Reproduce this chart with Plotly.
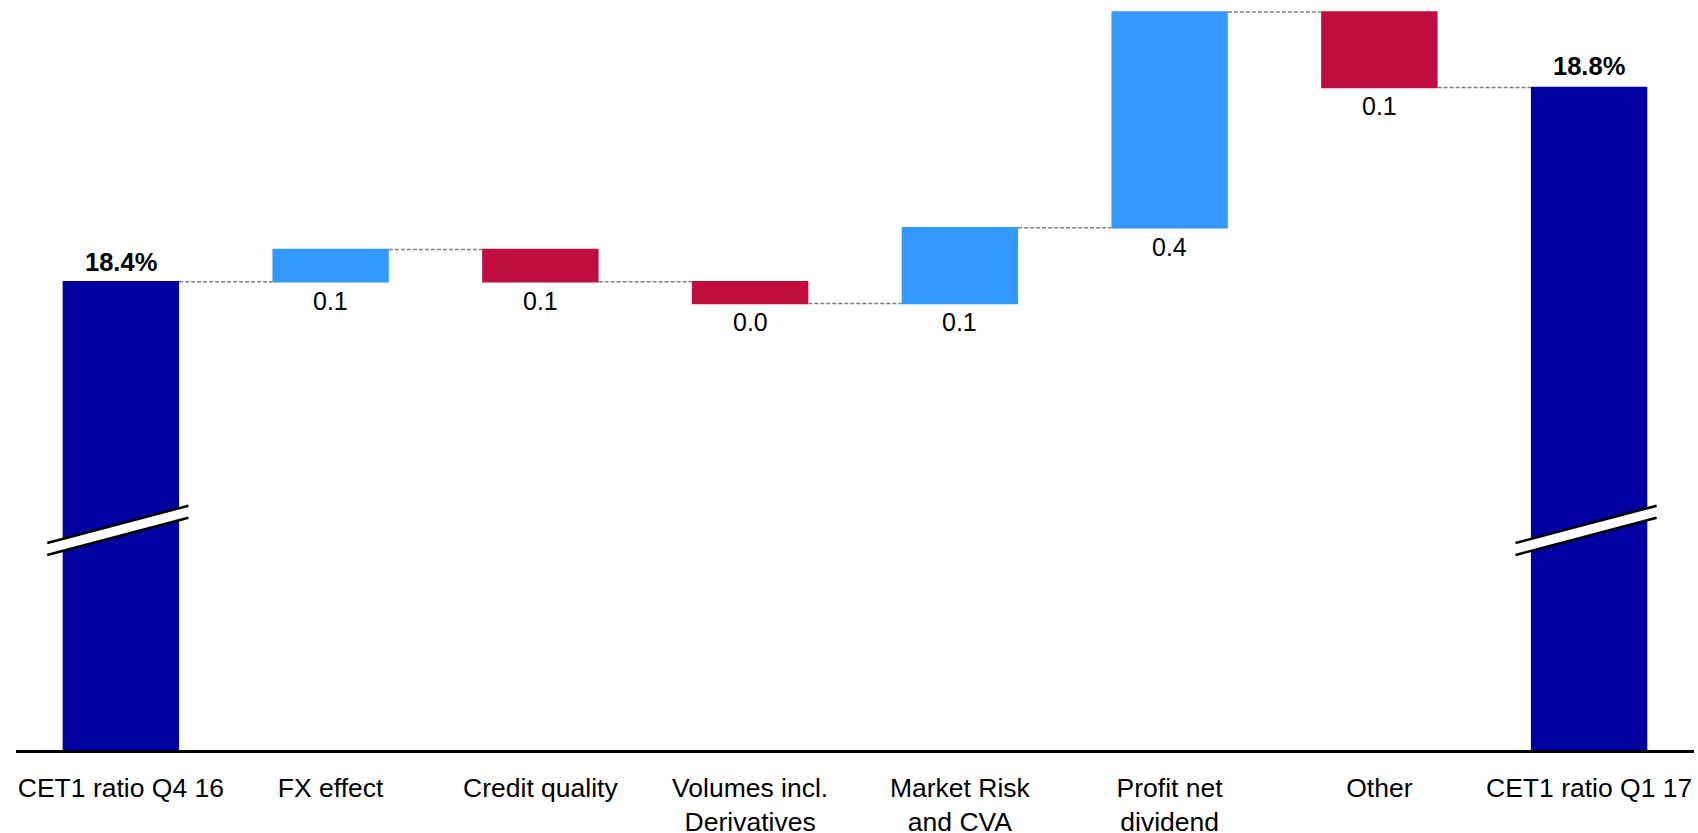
import plotly.graph_objects as go

# ---- data ----
categories = ["CET1 ratio Q4 16", "FX effect", "Credit quality",
              "Volumes incl.<br>Derivatives", "Market Risk<br>and CVA",
              "Profit net<br>dividend", "Other", "CET1 ratio Q1 17"]
measures = ["absolute", "relative", "relative", "relative",
            "relative", "relative", "relative", "total"]
values = [18.42, 0.06, -0.06, -0.04, 0.14, 0.40, -0.14, 0]

# ---- styling ----
C_TOTAL = "#0000A0"
C_UP = "#3399FF"
C_DOWN = "#C10D3D"
FONT = "Liberation Sans, Arial, sans-serif"

W, H = 1698, 833
ML, MR, MT, MB = 15.6, 4.4, 0, 83
Y_RANGE = [17.553, 18.942]

xs = list(range(len(categories)))

fig = go.Figure(go.Waterfall(
    x=xs, y=values, measure=measures, width=0.555,
    increasing=dict(marker=dict(color=C_UP)),
    decreasing=dict(marker=dict(color=C_DOWN)),
    totals=dict(marker=dict(color=C_TOTAL)),
    connector=dict(mode="between", line=dict(color="#808080", width=1.5, dash="4px,2px")),
    textinfo="none", hoverinfo="skip",
))

# ---- labels computed from the data ----
running = 0.0
for i, (m, v) in enumerate(zip(measures, values)):
    if m == "absolute":
        running = v
        fig.add_annotation(x=i, y=running, text=f"<b>{running:.1f}%</b>", showarrow=False,
                           yanchor="middle", yshift=20, font=dict(family=FONT, size=25.5, color="black"))
    elif m == "total":
        fig.add_annotation(x=i, y=running, text=f"<b>{running:.1f}%</b>", showarrow=False,
                           yanchor="middle", yshift=21, font=dict(family=FONT, size=25.5, color="black"))
    else:
        bottom = min(running, running + v)
        running += v
        fig.add_annotation(x=i, y=bottom, text=f"{abs(v):.1f}", showarrow=False,
                           yanchor="middle", yshift=-19, font=dict(family=FONT, size=25, color="black"))

# ---- axis break marks on the total bars (decoration) ----
def add_break(xc):
    xl, xr = xc - 0.351, xc + 0.322
    yl_top, yr_top = 0.276, 0.3257
    yl_bot, yr_bot = 0.260, 0.3097
    fig.add_shape(type="path", xref="x", yref="paper",
                  path=f"M {xl},{yl_top} L {xr},{yr_top} L {xr},{yr_bot} L {xl},{yl_bot} Z",
                  fillcolor="white", line=dict(width=0), layer="above")
    for (a, b) in [(yl_top, yr_top), (yl_bot, yr_bot)]:
        fig.add_shape(type="line", xref="x", yref="paper", x0=xl, x1=xr, y0=a, y1=b,
                      line=dict(color="black", width=2.5), layer="above")

for i, m in enumerate(measures):
    if m in ("absolute", "total"):
        add_break(i)

fig.update_layout(
    width=W, height=H, autosize=False,
    margin=dict(l=ML, r=MR, t=MT, b=MB, pad=0, autoexpand=False),
    paper_bgcolor="white", plot_bgcolor="white",
    showlegend=False,
    font=dict(family=FONT, size=26, color="black"),
    xaxis=dict(range=[-0.5, len(categories) - 0.5], tickvals=xs, ticktext=categories,
               showgrid=False, zeroline=False, showline=True, linecolor="black", linewidth=2.5,
               ticks="", ticklabelstandoff=12, automargin=False,
               tickfont=dict(family=FONT, size=26.5, color="black"),
               fixedrange=True),
    yaxis=dict(range=Y_RANGE, visible=False, showgrid=False, zeroline=False,
               automargin=False, fixedrange=True),
)

fig.write_html("out.html", config={"displayModeBar": False},
               post_script="document.body.style.margin='0';document.body.style.overflow='hidden';")
